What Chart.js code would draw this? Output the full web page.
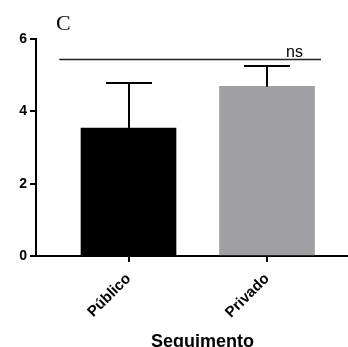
<!DOCTYPE html>
<html>
<head>
<meta charset="utf-8">
<script src="https://cdn.jsdelivr.net/npm/chart.js@4/dist/chart.umd.min.js"></script>
<style>
    html, body { margin: 0; padding: 0; background: #fff; }
    #wrap { width: 348px; height: 347px; position: relative; }
</style>
</head>
<body>
<div id="wrap"><canvas id="chart"></canvas></div>
<script>
// Groups and their positions on the x axis
const groups = ['Público', 'Privado'];
const groupPos = [1, 2];

// Mean per group and the top of its error bar
const means = [3.54, 4.69];
const errorTops = [4.79, 5.24];

// Y axis ticks
const yTicks = [0, 2, 4, 6];

// Significance bracket
const sigText = 'ns';
const sigLevel = 5.45;
const sigFrom = 0.5;
const sigTo = 2.39;

const panelLetter = 'C';
const xTitle = 'Seguimento';

const barColors = ['#000000', '#a0a0a4'];

// Error bars, significance line and text labels
const extrasPlugin = {
    id: 'extras',
    afterDatasetsDraw(chart) {
        const ctx = chart.ctx;
        const x = chart.scales.x;
        const y = chart.scales.y;
        const capHalf = 23;

        ctx.save();
        ctx.strokeStyle = '#000';
        ctx.lineWidth = 2;
        ctx.lineCap = 'butt';

        means.forEach((m, i) => {
            const px = Math.round(x.getPixelForValue(groupPos[i]));
            const yBase = y.getPixelForValue(m);
            const yTop = Math.round(y.getPixelForValue(errorTops[i]));
            ctx.beginPath();
            ctx.moveTo(px, yBase);
            ctx.lineTo(px, yTop);
            ctx.moveTo(px - capHalf, yTop);
            ctx.lineTo(px + capHalf, yTop);
            ctx.stroke();
        });

        // ns bracket
        const ly = Math.round(y.getPixelForValue(sigLevel)) + 0.5;
        ctx.lineWidth = 1.5;
        ctx.strokeStyle = '#222';
        ctx.beginPath();
        ctx.moveTo(x.getPixelForValue(sigFrom), ly);
        ctx.lineTo(x.getPixelForValue(sigTo), ly);
        ctx.stroke();

        ctx.fillStyle = '#000';
        ctx.font = '16px "Liberation Sans", Arial, sans-serif';
        ctx.textAlign = 'center';
        ctx.textBaseline = 'alphabetic';
        ctx.fillText(sigText, 294.5, ly - 3);

        // panel letter
        ctx.font = '22px "Liberation Serif", "Times New Roman", serif';
        ctx.textAlign = 'left';
        ctx.fillText(panelLetter, 56, 30);

        // x axis title
        ctx.font = 'bold 18px "Liberation Sans", Arial, sans-serif';
        ctx.textAlign = 'center';
        ctx.fillText(xTitle, 202.5, 346.5);
        ctx.restore();
    }
};

const ctx = document.getElementById('chart').getContext('2d');
new Chart(ctx, {
    type: 'bar',
    data: {
        datasets: [{
            data: groupPos.map((p, i) => ({ x: p, y: means[i] })),
            backgroundColor: barColors,
            borderWidth: 0,
            barThickness: 95
        }]
    },
    options: {
        responsive: true,
        maintainAspectRatio: false,
        animation: false,
        layout: { padding: { top: 39, right: 0, left: 0, bottom: 0 } },
        plugins: {
            legend: { display: false },
            tooltip: { enabled: false }
        },
        scales: {
            x: {
                type: 'linear',
                min: 0.332,
                max: 2.585,
                offset: false,
                afterBuildTicks: (scale) => {
                    scale.ticks = groupPos.map(v => ({ value: v }));
                },
                afterFit: (scale) => { scale.height = 91; },
                ticks: {
                    autoSkip: false,
                    minRotation: 45,
                    maxRotation: 45,
                    padding: 8,
                    color: '#000',
                    font: { family: '"Liberation Sans", Arial, sans-serif', size: 15, weight: 'bold' },
                    callback: (v) => groups[groupPos.indexOf(v)]
                },
                grid: {
                    drawOnChartArea: false,
                    offset: false,
                    tickLength: 6,
                    lineWidth: 2,
                    color: '#000'
                },
                border: { display: true, color: '#000', width: 2 }
            },
            y: {
                min: 0,
                max: 6,
                afterBuildTicks: (scale) => {
                    scale.ticks = yTicks.map(v => ({ value: v }));
                },
                afterFit: (scale) => { scale.width = 36; },
                ticks: {
                    padding: 3,
                    color: '#000',
                    font: { family: '"Liberation Sans", Arial, sans-serif', size: 14, weight: 'bold' }
                },
                grid: {
                    drawOnChartArea: false,
                    tickLength: 6,
                    lineWidth: 2,
                    color: '#000'
                },
                border: { display: true, color: '#000', width: 2 }
            }
        }
    },
    plugins: [extrasPlugin]
});
</script>
</body>
</html>
